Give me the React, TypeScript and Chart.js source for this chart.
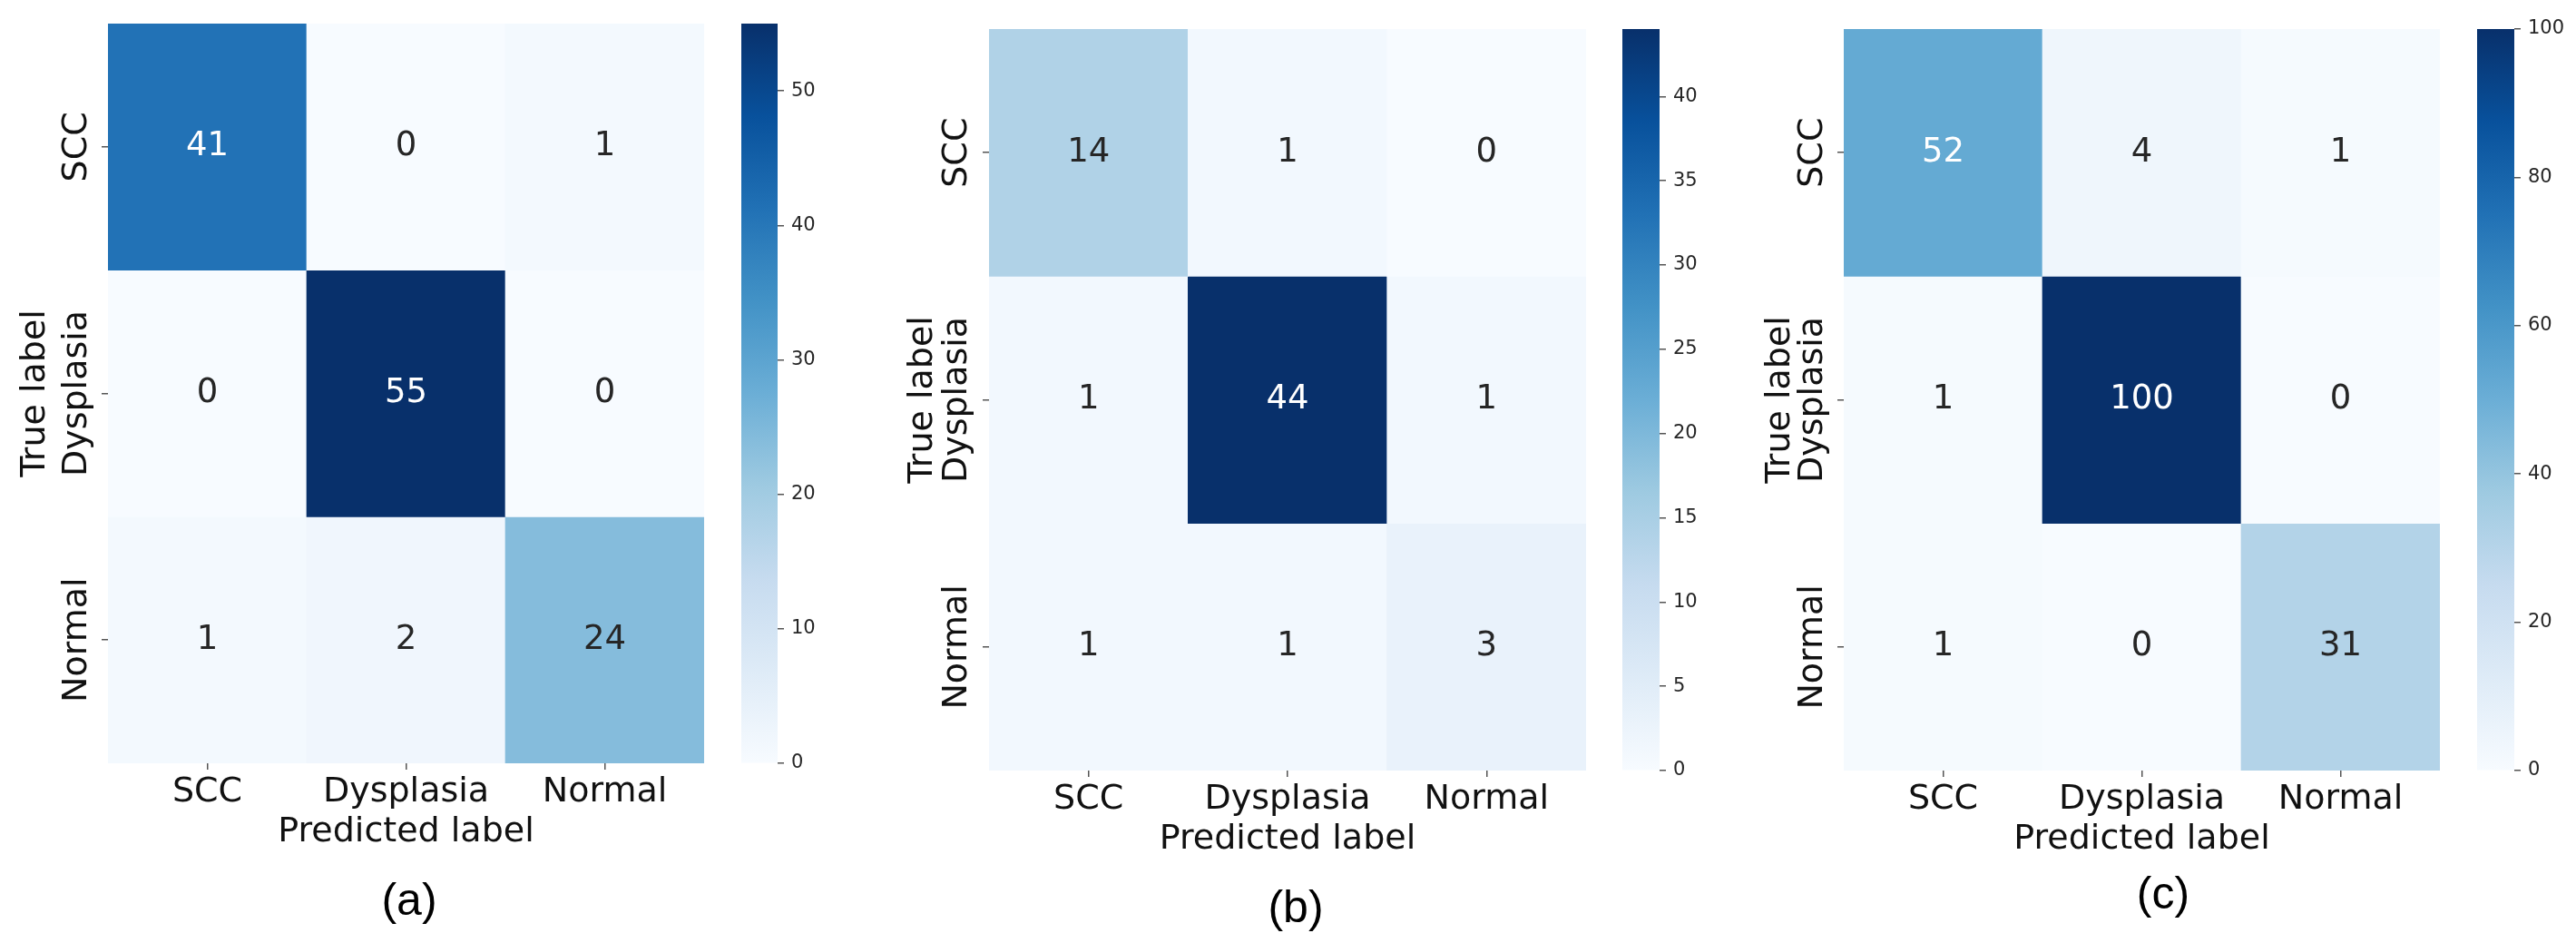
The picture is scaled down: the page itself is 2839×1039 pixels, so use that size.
import React, { useEffect, useRef } from 'react';
import { Chart, registerables } from 'chart.js';

Chart.register(...registerables);

// ---------------- data ----------------
const PREDICTED_LABELS = ['SCC', 'Dysplasia', 'Normal'];
const TRUE_LABELS = ['SCC', 'Dysplasia', 'Normal'];

const MATRIX_A = [
  [41, 0, 1],
  [0, 55, 0],
  [1, 2, 24],
];
const MATRIX_B = [
  [14, 1, 0],
  [1, 44, 1],
  [1, 1, 3],
];
const MATRIX_C = [
  [52, 4, 1],
  [1, 100, 0],
  [1, 0, 31],
];

const COLORBAR_STEPS = [10, 5, 20];
const CAPTIONS = ['(a)', '(b)', '(c)'];
const X_TITLE = 'Predicted label';
const Y_TITLE = 'True label';

// ---------------- styles / layout ----------------
const H = 1039;
const FAMILY = '"DejaVu Sans", sans-serif';
const TICK_SIZE = 38;
const ANNOT_SIZE = 37;
const CB_SIZE = 21;
const TL = 7;

const LAYOUT = [
  { x0: 0, left: 119, right: 776, top: 26, bottom: 841, cbLeft: 817, cbRight: 857, yTickX: 85, yTitleX: 39, capX: 451, capY: 995 },
  { x0: 930, left: 1090, right: 1748, top: 32, bottom: 849, cbLeft: 1788, cbRight: 1829, yTickX: 1055, yTitleX: 1017, capX: 1428, capY: 1003 },
  { x0: 1880, left: 2032, right: 2689, top: 32, bottom: 849, cbLeft: 2730, cbRight: 2771, yTickX: 1998, yTitleX: 1962, capX: 2384, capY: 988 },
];

const BLUES = ['#f7fbff', '#deebf7', '#c6dbef', '#9ecae1', '#6baed6', '#4292c6', '#2171b5', '#08519c', '#08306b'];

function hexToRgb(h: string): number[] {
  const n = parseInt(h.slice(1), 16);
  return [(n >> 16) & 255, (n >> 8) & 255, n & 255];
}
const BLUES_RGB = BLUES.map(hexToRgb);

function blues(t: number): number[] {
  const c = Math.max(0, Math.min(1, t));
  const s = c * (BLUES_RGB.length - 1);
  const i = Math.min(BLUES_RGB.length - 2, Math.floor(s));
  const f = s - i;
  const a = BLUES_RGB[i];
  const b = BLUES_RGB[i + 1];
  return [0, 1, 2].map((k) => a[k] + (b[k] - a[k]) * f);
}
function rgbStr(c: number[]): string {
  return `rgb(${Math.round(c[0])},${Math.round(c[1])},${Math.round(c[2])})`;
}
function luminance(c: number[]): number {
  const lin = c.map((v) => {
    const x = v / 255;
    return x <= 0.03928 ? x / 12.92 : Math.pow((x + 0.055) / 1.055, 2.4);
  });
  return 0.2126 * lin[0] + 0.7152 * lin[1] + 0.0722 * lin[2];
}

function measureWidest(labels: string[], font: string): number {
  const ctx = document.createElement('canvas').getContext('2d')!;
  ctx.font = font;
  return Math.max(...labels.map((l) => ctx.measureText(l).width));
}

const annotatePlugin = {
  id: 'cellAnnotations',
  afterDatasetsDraw(chart: any) {
    const { ctx } = chart;
    ctx.save();
    ctx.font = `${ANNOT_SIZE}px ${FAMILY}`;
    ctx.textAlign = 'center';
    ctx.textBaseline = 'middle';
    chart.data.datasets.forEach((ds: any, di: number) => {
      const meta = chart.getDatasetMeta(di);
      meta.data.forEach((el: any, ci: number) => {
        const v = ds.counts[ci];
        const col = blues(v / ds.vmax);
        ctx.fillStyle = luminance(col) > 0.408 ? '#262626' : '#ffffff';
        const { x, y, base } = el.getProps(['x', 'y', 'base'], true);
        ctx.fillText(String(v), x, (y + base) / 2);
      });
    });
    ctx.restore();
  },
};

function Panel({ idx, matrix }: { idx: number; matrix: number[][] }) {
  const L = LAYOUT[idx];
  const heatW = L.cbLeft - 20 - L.x0;
  const cbX0 = L.cbLeft - 20;
  const cbW = 130;
  const heatRef = useRef<HTMLCanvasElement>(null);
  const cbRef = useRef<HTMLCanvasElement>(null);

  useEffect(() => {
    const vmax = Math.max(...matrix.flat());
    const tickFont = { family: FAMILY, size: TICK_SIZE, lineHeight: 1.2 };
    const lh = TICK_SIZE * 1.2;
    const widest = measureWidest(TRUE_LABELS, `${TICK_SIZE}px ${FAMILY}`);
    const yPad = (L.left - L.yTickX) - TL - widest / 2;
    const xPad = 32 - TL - lh / 2;
    const xTitlePad = H - L.bottom - 76 - lh / 2;
    const yTitlePad = L.yTitleX - L.x0 - lh / 2;

    const heat = new Chart(heatRef.current!, {
      type: 'bar',
      data: {
        labels: PREDICTED_LABELS,
        datasets: matrix.map((row, r) => ({
          label: TRUE_LABELS[r],
          data: row.map(() => 1),
          counts: row,
          vmax,
          backgroundColor: row.map((v) => rgbStr(blues(v / vmax))),
          borderWidth: 0,
          barPercentage: 1,
          categoryPercentage: 1,
          stack: 'matrix',
        })) as any,
      },
      options: {
        responsive: false,
        animation: false,
        layout: { padding: { left: 0, top: L.top, right: heatW - (L.right - L.x0), bottom: 0 } },
        plugins: { legend: { display: false }, tooltip: { enabled: false } },
        scales: {
          x: {
            type: 'category',
            stacked: true,
            offset: true,
            grid: { display: true, drawOnChartArea: false, drawTicks: true, tickLength: TL, color: '#555', lineWidth: 1.5, offset: false },
            border: { display: false },
            ticks: { font: tickFont, color: '#111', padding: xPad, maxRotation: 0, minRotation: 0, autoSkip: false },
            title: { display: true, text: X_TITLE, font: tickFont, color: '#111', padding: { top: 0, bottom: xTitlePad } },
            afterFit: (s: any) => { s.height = H - L.bottom; },
          },
          y: {
            type: 'linear',
            stacked: true,
            reverse: true,
            min: 0,
            max: TRUE_LABELS.length,
            grid: { display: true, drawOnChartArea: false, drawTicks: true, tickLength: TL, color: '#555', lineWidth: 1.5 },
            border: { display: false },
            ticks: {
              font: tickFont,
              color: '#111',
              padding: yPad,
              crossAlign: 'center',
              minRotation: 90,
              maxRotation: 90,
              autoSkip: false,
              callback: (v: any) => TRUE_LABELS[Math.floor(Number(v))] ?? '',
            },
            afterBuildTicks: (s: any) => { s.ticks = TRUE_LABELS.map((_, i) => ({ value: i + 0.5 })); },
            title: { display: true, text: Y_TITLE, font: tickFont, color: '#111', padding: { top: yTitlePad, bottom: 0 } },
            afterFit: (s: any) => { s.width = L.left - L.x0; },
          },
        },
      } as any,
      plugins: [annotatePlugin],
    });

    const cb = new Chart(cbRef.current!, {
      type: 'bar',
      data: {
        labels: [''],
        datasets: [
          {
            data: [vmax],
            borderWidth: 0,
            barPercentage: 1,
            categoryPercentage: 1,
            backgroundColor: (ctx: any) => {
              const area = ctx.chart.chartArea;
              if (!area) return BLUES[0];
              const g = ctx.chart.ctx.createLinearGradient(0, area.bottom, 0, area.top);
              BLUES.forEach((c, i) => g.addColorStop(i / (BLUES.length - 1), c));
              return g;
            },
          },
        ],
      },
      options: {
        responsive: false,
        animation: false,
        layout: { padding: { left: L.cbLeft - cbX0, top: L.top, right: 0, bottom: H - L.bottom } },
        plugins: { legend: { display: false }, tooltip: { enabled: false } },
        scales: {
          x: { display: false },
          y: {
            position: 'right',
            min: 0,
            max: vmax,
            grid: { display: true, drawOnChartArea: false, drawTicks: true, tickLength: TL, color: '#555', lineWidth: 1.5 },
            border: { display: false },
            ticks: { stepSize: COLORBAR_STEPS[idx], includeBounds: false, font: { family: FAMILY, size: CB_SIZE }, color: '#262626', padding: 8 },
            afterFit: (s: any) => { s.width = cbW - (L.cbRight - cbX0); },
          },
        },
      } as any,
    });

    return () => {
      heat.destroy();
      cb.destroy();
    };
  }, []);

  return (
    <>
      <canvas ref={heatRef} width={heatW} height={H} style={{ position: 'absolute', left: L.x0, top: 0 }} />
      <canvas ref={cbRef} width={cbW} height={H} style={{ position: 'absolute', left: cbX0, top: 0 }} />
      <div
        style={{
          position: 'absolute',
          left: L.capX - 100,
          width: 200,
          top: L.capY - 29,
          fontFamily: '"Liberation Sans", Arial, sans-serif',
          fontSize: 50,
          lineHeight: '50px',
          textAlign: 'center',
          color: '#000',
          whiteSpace: 'nowrap',
        }}
      >
        {CAPTIONS[idx]}
      </div>
    </>
  );
}

export default function App() {
  const matrices = [MATRIX_A, MATRIX_B, MATRIX_C];
  return (
    <div style={{ position: 'absolute', left: 0, top: 0, width: 2839, height: H, background: '#fff', overflow: 'hidden' }}>
      {matrices.map((m, i) => (
        <Panel key={i} idx={i} matrix={m} />
      ))}
    </div>
  );
}
